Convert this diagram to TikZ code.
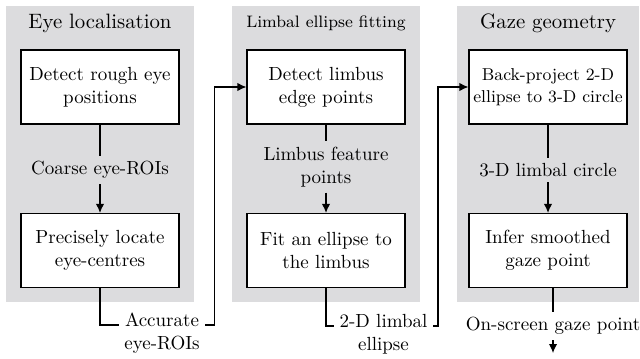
\documentclass[tikz,border=0pt]{standalone}
\usetikzlibrary{arrows.meta}

\definecolor{panelgrey}{RGB}{220,220,222}
\tikzset{every picture/.style={line width=0.6pt}}
\tikzset{
stage/.style={draw, fill=white, align=center, minimum width=79pt, minimum height=37pt, inner sep=1pt, font=\fontsize{9.5}{11.5}\selectfont},
steplabel/.style={align=center, inner sep=2.5pt, font=\fontsize{9.5}{11.5}\selectfont},
paneltitle/.style={inner sep=1pt, font=\fontsize{10.4}{12.5}\selectfont},
>={Latex[length=4.5pt,width=4.2pt]}}

\begin{document}
\begin{tikzpicture}[x=0.5pt,y=0.5pt,yscale=-1,xscale=1]
\useasboundingbox (0,0) rectangle (640,358);

%Shape: Rectangle [panels]
\fill [panelgrey] (6,6) rectangle (194,302);
\fill [panelgrey] (232,6) rectangle (420,302);
\fill [panelgrey] (457,6) rectangle (639,302);

% Text Node
\node [paneltitle] (titleA) at (100,23) {Eye localisation};
% Text Node
\node [paneltitle, font=\fontsize{8.3}{10}\selectfont] (titleB) at (326,23) {Limbal ellipse fitting};
% Text Node
\node [paneltitle] (titleC) at (548,23) {Gaze geometry};

% stages
\node [stage] (rough) at (100,87) {Detect rough eye\\positions};
\node [stage] (precise) at (100,250.5) {Precisely locate\\eye-centres};
\node [stage] (edge) at (326,87) {Detect limbus\\edge points};
\node [stage] (fit) at (326,250.5) {Fit an ellipse to\\the limbus};
\node [stage, font=\fontsize{8.6}{11}\selectfont] (backproj) at (548,87) {Back-project 2-D\\ellipse to 3-D circle};
\node [stage] (smooth) at (548,250.5) {Infer smoothed\\gaze point};

% Text Node
\node [steplabel] (coarse) at (100,170) {Coarse eye-ROIs};
\node [steplabel] (feature) at (326,167) {Limbus feature\\points};
\node [steplabel] (circle3d) at (548,170) {3-D limbal circle};
\node [steplabel] (accurate) at (162,333) {Accurate\\eye-ROIs};
\node [steplabel] (ellipse2d) at (383.5,334) {2-D limbal\\ellipse};
\node [steplabel] (onscreen) at (553,326) {On-screen gaze point};
\coordinate (screenout) at (553,353);

%Straight Lines
\draw (rough) -- (coarse);
\draw [->] (coarse) -- (precise);
\draw (edge) -- (feature);
\draw [->] (feature) -- (fit);
\draw (backproj) -- (circle3d);
\draw [->] (circle3d) -- (smooth);

% hand-over between panels (y axis is flipped, so shift by -4pt to go up)
\draw (precise.south) |- ([yshift=-4pt]accurate.west);
\draw [->] ([yshift=-4pt]accurate.east) -- ++(9,0) |- (edge.west);
\draw (fit.south) |- ([yshift=-4pt]ellipse2d.west);
\draw [->] ([yshift=-4pt]ellipse2d.east) -- ++(5,0) |- (backproj.west);
\draw (smooth.south -| onscreen) -- (onscreen);
\draw [->] (onscreen) -- (screenout);

\end{tikzpicture}
\end{document}
